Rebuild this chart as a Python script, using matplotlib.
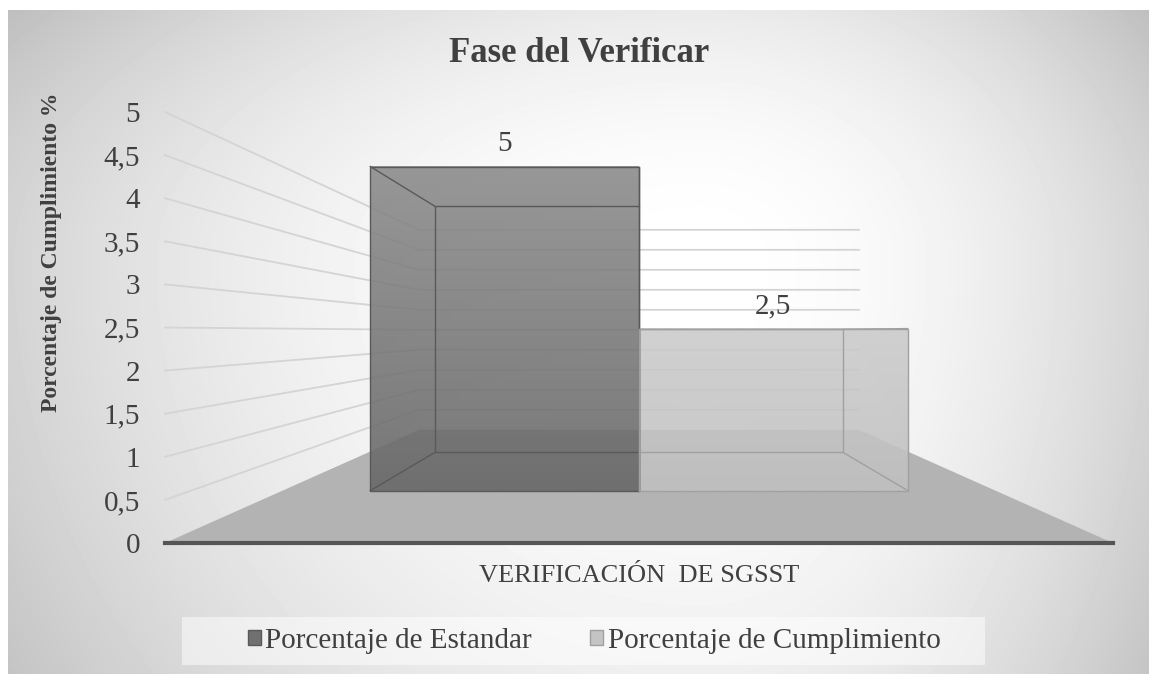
import matplotlib.pyplot as plt
import numpy as np
from matplotlib.patches import Polygon, Patch, Rectangle
from matplotlib.ticker import FuncFormatter

plt.rcParams['font.family'] = ['Liberation Serif', 'DejaVu Serif']

# datos
titulo = "Fase del Verificar"
categoria = "VERIFICACIÓN  DE SGSST"
series = ["Porcentaje de Estandar", "Porcentaje de Cumplimiento"]
valores = [5, 2.5]
etiquetas = ["5", "2,5"]
yticks = np.arange(0, 5.01, 0.5)
ylabel = "Porcentaje de Cumplimiento %"

# estilo
color_sup = ["#8a8a8a", "#cbcbcb"]   # arriba de la barra
color_inf = ["#666666", "#c0c0c0"]   # abajo
color_borde = ["#595959", "#a0a0a0"]
color_leyenda = ["#707070", "#c4c4c4"]
texto = "#404040"

# perspectiva (punto de fuga y profundidades)
vx, vy = 0.0, 2.45
z_front, z_back, z_wall = 0.33, 0.75, 1.155
ancho = 0.377


def proy(x, y, z):
    k = 1.0 / (1.0 + z)
    return vx + (x - vx) * k, vy + (y - vy) * k


W, H = 1149, 674
fig = plt.figure(figsize=(W / 100, H / 100), dpi=100)

# fondo con degradado
bg = fig.add_axes([0, 0, 1, 1])
bg.set_xlim(0, W)
bg.set_ylim(H, 0)
bg.axis('off')
gx, gy = np.meshgrid(np.arange(8, W), np.arange(10, H))
u = np.where(gx < 700, (gx - 700) / 690.0, (gx - 700) / 450.0)
v = np.where(gy < 260, (gy - 260) / 260.0, (gy - 260) / 500.0)
grad = np.clip(1 - 0.17 * u ** 2 - 0.09 * v ** 2, 0, 1)
bg.imshow(grad, extent=[8, W, H, 10], cmap='gray', vmin=0, vmax=1,
          aspect='auto', interpolation='bilinear')
bg.add_patch(Rectangle((182, 617), 803, 48, fc='white', alpha=0.5, ec='none'))

# ejes principales
ax = fig.add_axes([165 / W, (H - 543) / H, (1113 - 165) / W, (543 - 112) / H])
ax.patch.set_alpha(0)

# lineas de division: pared izquierda y pared del fondo
for t in yticks[1:]:
    x1, y1 = proy(-0.5, t, 0)
    x2, y2 = proy(-0.5, t, z_wall)
    x3, y3 = proy(0.5, t, z_wall)
    ax.plot([x1, x2, x3], [y1, y2, y3], color="#d4d4d4", lw=1.3, zorder=1,
            clip_on=False)

# piso
piso = [proy(-0.5, 0, 0), proy(0.5, 0, 0), proy(0.5, 0, z_wall), proy(-0.5, 0, z_wall)]
ax.add_patch(Polygon(piso, closed=True, fc="#b3b3b3", ec='none', zorder=2))

# barras
n = len(valores)
for i, val in enumerate(valores):
    x0 = -ancho * n / 2 + i * ancho
    x1 = x0 + ancho
    fx0, fy0 = proy(x0, 0, z_front)
    fx1, fy1 = proy(x1, val, z_front)
    c1 = np.array([int(color_sup[i][j:j + 2], 16) for j in (1, 3, 5)]) / 255
    c2 = np.array([int(color_inf[i][j:j + 2], 16) for j in (1, 3, 5)]) / 255
    tt = np.linspace(0, 1, 100)[:, None]
    img = (c1 * (1 - tt) + c2 * tt)[:, None, :]
    ax.imshow(img, extent=[fx0, fx1, fy0, fy1], origin='upper', aspect='auto',
              alpha=0.88, zorder=3, interpolation='bilinear')
    # aristas de la caja
    esq = [(x0, 0), (x1, 0), (x1, val), (x0, val)]
    fr = [proy(a, b, z_front) for a, b in esq]
    bk = [proy(a, b, z_back) for a, b in esq]
    for cara in (fr, bk):
        ax.add_patch(Polygon(cara, closed=True, fc='none', ec=color_borde[i],
                             lw=1.0, zorder=4))
    for p, q in zip(fr, bk):
        ax.plot([p[0], q[0]], [p[1], q[1]], color=color_borde[i], lw=1.0, zorder=4)
    cx, cy = proy((x0 + x1) / 2, val, z_front)
    ax.annotate(etiquetas[i], xy=(cx, cy), xytext=(0, 11), textcoords='offset points',
                ha='center', va='baseline', fontsize=21, color=texto, zorder=5)

ax.set_xlim(-0.5, 0.5)
ax.set_ylim(0, 5)
ax.set_yticks(yticks)
ax.yaxis.set_major_formatter(FuncFormatter(lambda t, p: f"{t:g}".replace('.', ',')))
ax.set_xticks([0])
ax.set_xticklabels([categoria])
ax.tick_params(axis='y', length=0, pad=18, labelsize=21, labelcolor=texto)
ax.tick_params(axis='x', length=0, pad=16, labelsize=19, labelcolor=texto)
for s in ('left', 'right', 'top'):
    ax.spines[s].set_visible(False)
ax.spines['bottom'].set_color("#555555")
ax.spines['bottom'].set_linewidth(3)
ax.spines['bottom'].set_zorder(6)

fig.text(579 / W, 1 - 54 / H, titulo, ha='center', va='center', fontsize=25,
         fontweight='bold', color=texto)
fig.text(52 / W, 1 - 252 / H, ylabel, ha='center', va='center', rotation=90,
         fontsize=17, fontweight='bold', color=texto)

handles = [Patch(fc=color_leyenda[i], ec=color_borde[i]) for i in range(n)]
fig.legend(handles, series, loc='center', bbox_to_anchor=(594 / W, 1 - 641 / H),
           ncol=2, frameon=False, fontsize=21, handlelength=0.45, handleheight=0.45,
           handletextpad=0.15, columnspacing=2.0, labelcolor=texto)

fig.savefig("out.png", dpi=100)
